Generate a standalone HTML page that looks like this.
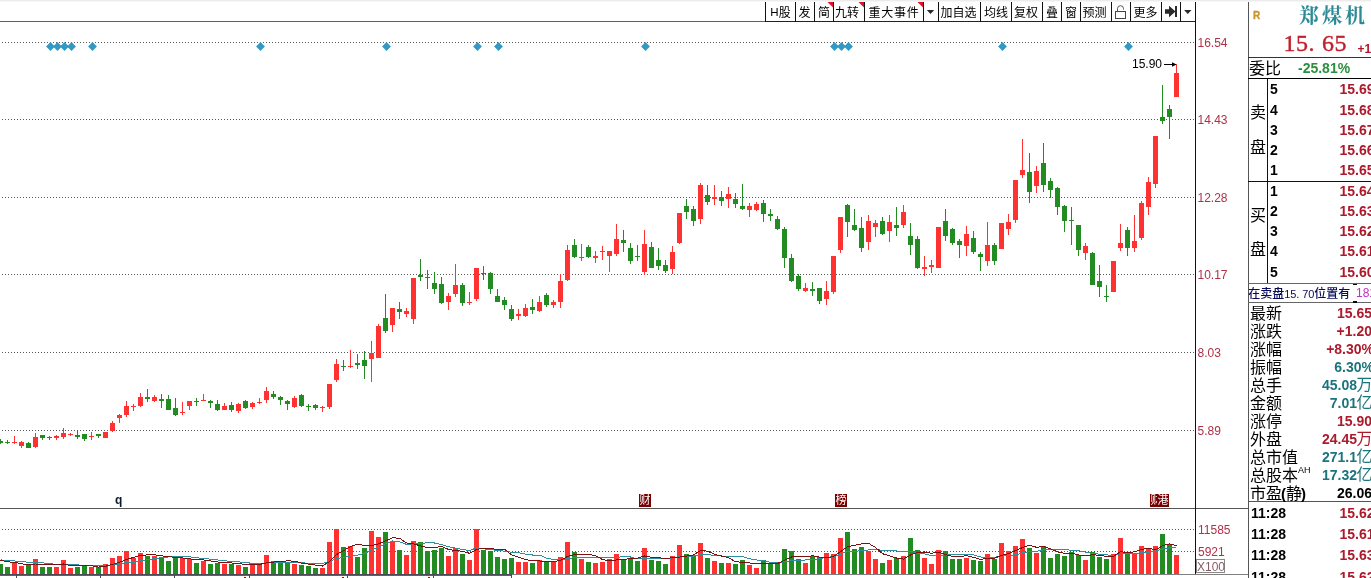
<!DOCTYPE html>
<html lang="zh"><head><meta charset="utf-8"><title>郑煤机</title><style>
html,body{margin:0;padding:0;background:#fff}
body{width:1371px;height:578px;overflow:hidden;position:relative;font-family:"Liberation Sans","Noto Sans CJK SC",sans-serif}
svg{position:absolute;left:0;top:0}
.t{position:absolute;white-space:nowrap;line-height:1.15;}
.ax{font:12px/14px "Liberation Sans",sans-serif;color:#b03048}
.tb{font:12px/16px "Liberation Sans","Noto Sans CJK SC",sans-serif;color:#000;text-align:center}
.b{font:bold 14px/16px "Liberation Sans","Noto Sans CJK SC",sans-serif}
.cn16{font:16px/18px "Liberation Sans","Noto Sans CJK SC",sans-serif;color:#000;font-weight:400}
.u{font:16px/16px "Liberation Sans","Noto Sans CJK SC",sans-serif;font-weight:400;margin-left:-0.5px}
.sup{color:#000;font:9px/8px "Liberation Sans",sans-serif;vertical-align:top;position:relative;top:-1px}
.d6{display:inline-block;width:6px;text-align:left;font-size:11px}
.pr{font-weight:bold;font-size:15px;display:inline-block;width:4px;text-indent:-1px}
.mk{position:absolute;top:494px;width:12px;height:13px;background:#7a0000;color:#fff;font:11px/13px "Liberation Sans","Noto Sans CJK SC",sans-serif;text-align:center;overflow:hidden}
</style></head>
<body>
<svg width="1371" height="578" viewBox="0 0 1371 578" shape-rendering="crispEdges">
<rect x="0" y="0" width="1371" height="1" fill="#ececec"/>
<rect x="0" y="1" width="1371" height="1" fill="#f6f6f6"/>
<line x1="2" y1="42.5" x2="1195" y2="42.5" stroke="#585858" stroke-width="1" stroke-dasharray="1 2"/>
<line x1="2" y1="119.5" x2="1195" y2="119.5" stroke="#585858" stroke-width="1" stroke-dasharray="1 2"/>
<line x1="2" y1="197.5" x2="1195" y2="197.5" stroke="#585858" stroke-width="1" stroke-dasharray="1 2"/>
<line x1="2" y1="274.5" x2="1195" y2="274.5" stroke="#585858" stroke-width="1" stroke-dasharray="1 2"/>
<line x1="2" y1="352.5" x2="1195" y2="352.5" stroke="#585858" stroke-width="1" stroke-dasharray="1 2"/>
<line x1="2" y1="430.5" x2="1195" y2="430.5" stroke="#585858" stroke-width="1" stroke-dasharray="1 2"/>
<line x1="2" y1="529.5" x2="1195" y2="529.5" stroke="#585858" stroke-width="1" stroke-dasharray="1 2"/>
<line x1="2" y1="551.5" x2="1195" y2="551.5" stroke="#585858" stroke-width="1" stroke-dasharray="1 2"/>
<rect x="0" y="21" width="765" height="1" fill="#606060"/>
<rect x="765" y="21" width="431" height="1" fill="#222"/>
<rect x="0" y="508" width="1248" height="1" fill="#555"/>
<rect x="1178" y="574" width="70" height="1" fill="#777"/>
<rect x="1195" y="2" width="1" height="573" fill="#111"/>
<rect x="0" y="439" width="1" height="5" fill="#228b22"/>
<rect x="-2" y="441" width="5" height="2" fill="#228b22"/>
<rect x="7" y="440" width="1" height="4" fill="#228b22"/>
<rect x="5" y="442" width="5" height="1" fill="#228b22"/>
<rect x="14" y="436" width="1" height="8" fill="#ff3232"/>
<rect x="12" y="442" width="5" height="1" fill="#ff3232"/>
<rect x="21" y="441" width="1" height="7" fill="#ff3232"/>
<rect x="19" y="442" width="5" height="4" fill="#ff3232"/>
<rect x="28" y="442" width="1" height="6" fill="#228b22"/>
<rect x="26" y="443" width="5" height="5" fill="#228b22"/>
<rect x="35" y="433" width="1" height="15" fill="#ff3232"/>
<rect x="33" y="437" width="5" height="10" fill="#ff3232"/>
<rect x="42" y="435" width="1" height="5" fill="#228b22"/>
<rect x="40" y="435" width="5" height="3" fill="#228b22"/>
<rect x="49" y="436" width="1" height="4" fill="#228b22"/>
<rect x="47" y="437" width="5" height="1" fill="#228b22"/>
<rect x="56" y="435" width="1" height="5" fill="#ff3232"/>
<rect x="54" y="436" width="5" height="2" fill="#ff3232"/>
<rect x="63" y="428" width="1" height="11" fill="#ff3232"/>
<rect x="61" y="433" width="5" height="4" fill="#ff3232"/>
<rect x="70" y="433" width="1" height="3" fill="#ff3232"/>
<rect x="68" y="434" width="5" height="1" fill="#ff3232"/>
<rect x="77" y="431" width="1" height="8" fill="#228b22"/>
<rect x="75" y="435" width="5" height="2" fill="#228b22"/>
<rect x="84" y="434" width="1" height="7" fill="#228b22"/>
<rect x="82" y="434" width="5" height="5" fill="#228b22"/>
<rect x="91" y="432" width="1" height="8" fill="#ff3232"/>
<rect x="89" y="436" width="5" height="1" fill="#ff3232"/>
<rect x="98" y="434" width="1" height="4" fill="#228b22"/>
<rect x="96" y="434" width="5" height="2" fill="#228b22"/>
<rect x="105" y="432" width="1" height="6" fill="#ff3232"/>
<rect x="103" y="432" width="5" height="6" fill="#ff3232"/>
<rect x="112" y="421" width="1" height="11" fill="#ff3232"/>
<rect x="110" y="423" width="5" height="8" fill="#ff3232"/>
<rect x="119" y="414" width="1" height="9" fill="#ff3232"/>
<rect x="117" y="415" width="5" height="3" fill="#ff3232"/>
<rect x="126" y="401" width="1" height="16" fill="#ff3232"/>
<rect x="124" y="406" width="5" height="9" fill="#ff3232"/>
<rect x="133" y="404" width="1" height="7" fill="#ff3232"/>
<rect x="131" y="406" width="5" height="1" fill="#ff3232"/>
<rect x="140" y="393" width="1" height="14" fill="#ff3232"/>
<rect x="138" y="397" width="5" height="9" fill="#ff3232"/>
<rect x="147" y="389" width="1" height="13" fill="#228b22"/>
<rect x="145" y="397" width="5" height="2" fill="#228b22"/>
<rect x="154" y="395" width="1" height="7" fill="#ff3232"/>
<rect x="152" y="397" width="5" height="4" fill="#ff3232"/>
<rect x="161" y="394" width="1" height="14" fill="#228b22"/>
<rect x="159" y="399" width="5" height="2" fill="#228b22"/>
<rect x="168" y="395" width="1" height="15" fill="#228b22"/>
<rect x="166" y="399" width="5" height="11" fill="#228b22"/>
<rect x="175" y="398" width="1" height="18" fill="#228b22"/>
<rect x="173" y="408" width="5" height="7" fill="#228b22"/>
<rect x="182" y="402" width="1" height="13" fill="#ff3232"/>
<rect x="180" y="412" width="5" height="1" fill="#ff3232"/>
<rect x="189" y="401" width="1" height="9" fill="#ff3232"/>
<rect x="187" y="401" width="5" height="5" fill="#ff3232"/>
<rect x="196" y="398" width="1" height="8" fill="#228b22"/>
<rect x="194" y="401" width="5" height="1" fill="#228b22"/>
<rect x="203" y="394" width="1" height="7" fill="#ff3232"/>
<rect x="201" y="400" width="5" height="1" fill="#ff3232"/>
<rect x="210" y="400" width="1" height="8" fill="#228b22"/>
<rect x="208" y="401" width="5" height="2" fill="#228b22"/>
<rect x="217" y="400" width="1" height="11" fill="#228b22"/>
<rect x="215" y="404" width="5" height="6" fill="#228b22"/>
<rect x="224" y="403" width="1" height="7" fill="#ff3232"/>
<rect x="222" y="406" width="5" height="4" fill="#ff3232"/>
<rect x="231" y="402" width="1" height="10" fill="#228b22"/>
<rect x="229" y="405" width="5" height="5" fill="#228b22"/>
<rect x="238" y="403" width="1" height="10" fill="#ff3232"/>
<rect x="236" y="404" width="5" height="7" fill="#ff3232"/>
<rect x="245" y="400" width="1" height="9" fill="#228b22"/>
<rect x="243" y="401" width="5" height="7" fill="#228b22"/>
<rect x="252" y="402" width="1" height="7" fill="#ff3232"/>
<rect x="250" y="403" width="5" height="4" fill="#ff3232"/>
<rect x="259" y="398" width="1" height="6" fill="#ff3232"/>
<rect x="257" y="402" width="5" height="1" fill="#ff3232"/>
<rect x="266" y="387" width="1" height="16" fill="#ff3232"/>
<rect x="264" y="391" width="5" height="9" fill="#ff3232"/>
<rect x="273" y="391" width="1" height="8" fill="#228b22"/>
<rect x="271" y="394" width="5" height="3" fill="#228b22"/>
<rect x="280" y="396" width="1" height="9" fill="#228b22"/>
<rect x="278" y="397" width="5" height="3" fill="#228b22"/>
<rect x="287" y="400" width="1" height="10" fill="#228b22"/>
<rect x="285" y="401" width="5" height="3" fill="#228b22"/>
<rect x="294" y="396" width="1" height="12" fill="#ff3232"/>
<rect x="292" y="398" width="5" height="9" fill="#ff3232"/>
<rect x="301" y="394" width="1" height="13" fill="#228b22"/>
<rect x="299" y="395" width="5" height="11" fill="#228b22"/>
<rect x="308" y="404" width="1" height="7" fill="#228b22"/>
<rect x="306" y="406" width="5" height="1" fill="#228b22"/>
<rect x="315" y="404" width="1" height="6" fill="#228b22"/>
<rect x="313" y="405" width="5" height="3" fill="#228b22"/>
<rect x="322" y="406" width="1" height="6" fill="#ff3232"/>
<rect x="320" y="407" width="5" height="1" fill="#ff3232"/>
<rect x="329" y="384" width="1" height="25" fill="#ff3232"/>
<rect x="327" y="384" width="5" height="23" fill="#ff3232"/>
<rect x="336" y="359" width="1" height="23" fill="#ff3232"/>
<rect x="334" y="364" width="5" height="16" fill="#ff3232"/>
<rect x="343" y="360" width="1" height="11" fill="#228b22"/>
<rect x="341" y="366" width="5" height="1" fill="#228b22"/>
<rect x="350" y="350" width="1" height="18" fill="#ff3232"/>
<rect x="348" y="366" width="5" height="1" fill="#ff3232"/>
<rect x="357" y="354" width="1" height="15" fill="#228b22"/>
<rect x="355" y="363" width="5" height="2" fill="#228b22"/>
<rect x="364" y="351" width="1" height="28" fill="#228b22"/>
<rect x="362" y="360" width="5" height="6" fill="#228b22"/>
<rect x="371" y="341" width="1" height="41" fill="#ff3232"/>
<rect x="369" y="353" width="5" height="6" fill="#ff3232"/>
<rect x="378" y="324" width="1" height="34" fill="#ff3232"/>
<rect x="376" y="326" width="5" height="32" fill="#ff3232"/>
<rect x="385" y="294" width="1" height="39" fill="#228b22"/>
<rect x="383" y="318" width="5" height="13" fill="#228b22"/>
<rect x="392" y="308" width="1" height="24" fill="#ff3232"/>
<rect x="390" y="308" width="5" height="17" fill="#ff3232"/>
<rect x="399" y="302" width="1" height="17" fill="#228b22"/>
<rect x="397" y="309" width="5" height="3" fill="#228b22"/>
<rect x="406" y="308" width="1" height="9" fill="#ff3232"/>
<rect x="404" y="311" width="5" height="3" fill="#ff3232"/>
<rect x="413" y="278" width="1" height="46" fill="#ff3232"/>
<rect x="411" y="278" width="5" height="41" fill="#ff3232"/>
<rect x="420" y="259" width="1" height="22" fill="#228b22"/>
<rect x="418" y="275" width="5" height="2" fill="#228b22"/>
<rect x="427" y="270" width="1" height="19" fill="#228b22"/>
<rect x="425" y="277" width="5" height="1" fill="#228b22"/>
<rect x="434" y="272" width="1" height="22" fill="#228b22"/>
<rect x="432" y="283" width="5" height="6" fill="#228b22"/>
<rect x="441" y="277" width="1" height="27" fill="#228b22"/>
<rect x="439" y="284" width="5" height="19" fill="#228b22"/>
<rect x="448" y="293" width="1" height="17" fill="#ff3232"/>
<rect x="446" y="296" width="5" height="6" fill="#ff3232"/>
<rect x="455" y="264" width="1" height="33" fill="#ff3232"/>
<rect x="453" y="285" width="5" height="9" fill="#ff3232"/>
<rect x="462" y="283" width="1" height="23" fill="#228b22"/>
<rect x="460" y="285" width="5" height="18" fill="#228b22"/>
<rect x="469" y="292" width="1" height="13" fill="#ff3232"/>
<rect x="467" y="302" width="5" height="1" fill="#ff3232"/>
<rect x="476" y="268" width="1" height="33" fill="#ff3232"/>
<rect x="474" y="268" width="5" height="31" fill="#ff3232"/>
<rect x="483" y="266" width="1" height="14" fill="#228b22"/>
<rect x="481" y="273" width="5" height="1" fill="#228b22"/>
<rect x="490" y="272" width="1" height="22" fill="#228b22"/>
<rect x="488" y="273" width="5" height="16" fill="#228b22"/>
<rect x="497" y="289" width="1" height="13" fill="#228b22"/>
<rect x="495" y="296" width="5" height="6" fill="#228b22"/>
<rect x="504" y="297" width="1" height="13" fill="#228b22"/>
<rect x="502" y="300" width="5" height="5" fill="#228b22"/>
<rect x="511" y="305" width="1" height="16" fill="#228b22"/>
<rect x="509" y="309" width="5" height="10" fill="#228b22"/>
<rect x="518" y="309" width="1" height="11" fill="#ff3232"/>
<rect x="516" y="314" width="5" height="2" fill="#ff3232"/>
<rect x="525" y="304" width="1" height="13" fill="#ff3232"/>
<rect x="523" y="308" width="5" height="8" fill="#ff3232"/>
<rect x="532" y="299" width="1" height="15" fill="#228b22"/>
<rect x="530" y="307" width="5" height="3" fill="#228b22"/>
<rect x="539" y="296" width="1" height="16" fill="#ff3232"/>
<rect x="537" y="302" width="5" height="9" fill="#ff3232"/>
<rect x="546" y="293" width="1" height="14" fill="#228b22"/>
<rect x="544" y="295" width="5" height="10" fill="#228b22"/>
<rect x="553" y="300" width="1" height="8" fill="#ff3232"/>
<rect x="551" y="302" width="5" height="3" fill="#ff3232"/>
<rect x="560" y="274" width="1" height="34" fill="#ff3232"/>
<rect x="558" y="281" width="5" height="21" fill="#ff3232"/>
<rect x="567" y="245" width="1" height="36" fill="#ff3232"/>
<rect x="565" y="250" width="5" height="30" fill="#ff3232"/>
<rect x="574" y="239" width="1" height="19" fill="#228b22"/>
<rect x="572" y="245" width="5" height="12" fill="#228b22"/>
<rect x="581" y="244" width="1" height="17" fill="#ff3232"/>
<rect x="579" y="257" width="5" height="1" fill="#ff3232"/>
<rect x="588" y="245" width="1" height="13" fill="#228b22"/>
<rect x="586" y="247" width="5" height="10" fill="#228b22"/>
<rect x="595" y="251" width="1" height="12" fill="#ff3232"/>
<rect x="593" y="256" width="5" height="2" fill="#ff3232"/>
<rect x="602" y="246" width="1" height="14" fill="#ff3232"/>
<rect x="600" y="251" width="5" height="1" fill="#ff3232"/>
<rect x="609" y="251" width="1" height="21" fill="#ff3232"/>
<rect x="607" y="251" width="5" height="5" fill="#ff3232"/>
<rect x="616" y="224" width="1" height="32" fill="#ff3232"/>
<rect x="614" y="239" width="5" height="15" fill="#ff3232"/>
<rect x="623" y="230" width="1" height="22" fill="#228b22"/>
<rect x="621" y="240" width="5" height="3" fill="#228b22"/>
<rect x="630" y="243" width="1" height="21" fill="#228b22"/>
<rect x="628" y="248" width="5" height="13" fill="#228b22"/>
<rect x="637" y="245" width="1" height="16" fill="#228b22"/>
<rect x="635" y="256" width="5" height="1" fill="#228b22"/>
<rect x="644" y="230" width="1" height="45" fill="#ff3232"/>
<rect x="642" y="244" width="5" height="28" fill="#ff3232"/>
<rect x="651" y="242" width="1" height="26" fill="#228b22"/>
<rect x="649" y="247" width="5" height="21" fill="#228b22"/>
<rect x="658" y="248" width="1" height="22" fill="#228b22"/>
<rect x="656" y="260" width="5" height="6" fill="#228b22"/>
<rect x="665" y="260" width="1" height="13" fill="#228b22"/>
<rect x="663" y="265" width="5" height="6" fill="#228b22"/>
<rect x="672" y="246" width="1" height="28" fill="#ff3232"/>
<rect x="670" y="252" width="5" height="17" fill="#ff3232"/>
<rect x="679" y="213" width="1" height="31" fill="#ff3232"/>
<rect x="677" y="213" width="5" height="30" fill="#ff3232"/>
<rect x="686" y="199" width="1" height="20" fill="#228b22"/>
<rect x="684" y="206" width="5" height="6" fill="#228b22"/>
<rect x="693" y="206" width="1" height="20" fill="#228b22"/>
<rect x="691" y="209" width="5" height="12" fill="#228b22"/>
<rect x="700" y="183" width="1" height="41" fill="#ff3232"/>
<rect x="698" y="185" width="5" height="34" fill="#ff3232"/>
<rect x="707" y="185" width="1" height="20" fill="#228b22"/>
<rect x="705" y="195" width="5" height="7" fill="#228b22"/>
<rect x="714" y="185" width="1" height="20" fill="#ff3232"/>
<rect x="712" y="197" width="5" height="2" fill="#ff3232"/>
<rect x="721" y="191" width="1" height="15" fill="#228b22"/>
<rect x="719" y="197" width="5" height="4" fill="#228b22"/>
<rect x="728" y="187" width="1" height="21" fill="#ff3232"/>
<rect x="726" y="194" width="5" height="5" fill="#ff3232"/>
<rect x="735" y="193" width="1" height="15" fill="#228b22"/>
<rect x="733" y="199" width="5" height="5" fill="#228b22"/>
<rect x="742" y="184" width="1" height="26" fill="#228b22"/>
<rect x="740" y="206" width="5" height="3" fill="#228b22"/>
<rect x="749" y="203" width="1" height="14" fill="#ff3232"/>
<rect x="747" y="206" width="5" height="4" fill="#ff3232"/>
<rect x="756" y="202" width="1" height="9" fill="#ff3232"/>
<rect x="754" y="204" width="5" height="6" fill="#ff3232"/>
<rect x="763" y="200" width="1" height="22" fill="#228b22"/>
<rect x="761" y="203" width="5" height="11" fill="#228b22"/>
<rect x="770" y="209" width="1" height="12" fill="#228b22"/>
<rect x="768" y="214" width="5" height="2" fill="#228b22"/>
<rect x="777" y="216" width="1" height="14" fill="#228b22"/>
<rect x="775" y="219" width="5" height="10" fill="#228b22"/>
<rect x="784" y="227" width="1" height="41" fill="#228b22"/>
<rect x="782" y="229" width="5" height="29" fill="#228b22"/>
<rect x="791" y="254" width="1" height="28" fill="#228b22"/>
<rect x="789" y="258" width="5" height="23" fill="#228b22"/>
<rect x="798" y="274" width="1" height="17" fill="#228b22"/>
<rect x="796" y="276" width="5" height="13" fill="#228b22"/>
<rect x="805" y="283" width="1" height="9" fill="#ff3232"/>
<rect x="803" y="288" width="5" height="3" fill="#ff3232"/>
<rect x="812" y="282" width="1" height="14" fill="#228b22"/>
<rect x="810" y="289" width="5" height="2" fill="#228b22"/>
<rect x="819" y="288" width="1" height="16" fill="#228b22"/>
<rect x="817" y="288" width="5" height="13" fill="#228b22"/>
<rect x="826" y="281" width="1" height="24" fill="#ff3232"/>
<rect x="824" y="291" width="5" height="8" fill="#ff3232"/>
<rect x="833" y="256" width="1" height="38" fill="#ff3232"/>
<rect x="831" y="256" width="5" height="36" fill="#ff3232"/>
<rect x="840" y="217" width="1" height="36" fill="#ff3232"/>
<rect x="838" y="217" width="5" height="33" fill="#ff3232"/>
<rect x="847" y="204" width="1" height="33" fill="#228b22"/>
<rect x="845" y="205" width="5" height="17" fill="#228b22"/>
<rect x="854" y="209" width="1" height="22" fill="#228b22"/>
<rect x="852" y="225" width="5" height="5" fill="#228b22"/>
<rect x="861" y="217" width="1" height="35" fill="#228b22"/>
<rect x="859" y="228" width="5" height="20" fill="#228b22"/>
<rect x="868" y="215" width="1" height="35" fill="#ff3232"/>
<rect x="866" y="221" width="5" height="21" fill="#ff3232"/>
<rect x="875" y="220" width="1" height="17" fill="#ff3232"/>
<rect x="873" y="223" width="5" height="4" fill="#ff3232"/>
<rect x="882" y="217" width="1" height="18" fill="#228b22"/>
<rect x="880" y="221" width="5" height="13" fill="#228b22"/>
<rect x="889" y="215" width="1" height="27" fill="#ff3232"/>
<rect x="887" y="222" width="5" height="9" fill="#ff3232"/>
<rect x="896" y="207" width="1" height="29" fill="#228b22"/>
<rect x="894" y="225" width="5" height="3" fill="#228b22"/>
<rect x="903" y="205" width="1" height="23" fill="#ff3232"/>
<rect x="901" y="212" width="5" height="13" fill="#ff3232"/>
<rect x="910" y="223" width="1" height="32" fill="#228b22"/>
<rect x="908" y="236" width="5" height="9" fill="#228b22"/>
<rect x="917" y="236" width="1" height="33" fill="#228b22"/>
<rect x="915" y="239" width="5" height="29" fill="#228b22"/>
<rect x="924" y="256" width="1" height="20" fill="#ff3232"/>
<rect x="922" y="267" width="5" height="2" fill="#ff3232"/>
<rect x="931" y="260" width="1" height="13" fill="#ff3232"/>
<rect x="929" y="265" width="5" height="2" fill="#ff3232"/>
<rect x="938" y="227" width="1" height="41" fill="#ff3232"/>
<rect x="936" y="227" width="5" height="41" fill="#ff3232"/>
<rect x="945" y="209" width="1" height="32" fill="#228b22"/>
<rect x="943" y="221" width="5" height="15" fill="#228b22"/>
<rect x="952" y="228" width="1" height="17" fill="#228b22"/>
<rect x="950" y="229" width="5" height="14" fill="#228b22"/>
<rect x="959" y="239" width="1" height="19" fill="#228b22"/>
<rect x="957" y="241" width="5" height="4" fill="#228b22"/>
<rect x="966" y="226" width="1" height="30" fill="#ff3232"/>
<rect x="964" y="234" width="5" height="12" fill="#ff3232"/>
<rect x="973" y="231" width="1" height="23" fill="#228b22"/>
<rect x="971" y="238" width="5" height="14" fill="#228b22"/>
<rect x="980" y="252" width="1" height="19" fill="#228b22"/>
<rect x="978" y="254" width="5" height="3" fill="#228b22"/>
<rect x="987" y="222" width="1" height="44" fill="#ff3232"/>
<rect x="985" y="245" width="5" height="16" fill="#ff3232"/>
<rect x="994" y="243" width="1" height="22" fill="#228b22"/>
<rect x="992" y="245" width="5" height="16" fill="#228b22"/>
<rect x="1001" y="223" width="1" height="26" fill="#ff3232"/>
<rect x="999" y="223" width="5" height="26" fill="#ff3232"/>
<rect x="1008" y="214" width="1" height="21" fill="#ff3232"/>
<rect x="1006" y="222" width="5" height="7" fill="#ff3232"/>
<rect x="1015" y="180" width="1" height="43" fill="#ff3232"/>
<rect x="1013" y="180" width="5" height="40" fill="#ff3232"/>
<rect x="1022" y="139" width="1" height="39" fill="#ff3232"/>
<rect x="1020" y="170" width="5" height="5" fill="#ff3232"/>
<rect x="1029" y="153" width="1" height="50" fill="#228b22"/>
<rect x="1027" y="172" width="5" height="20" fill="#228b22"/>
<rect x="1036" y="166" width="1" height="27" fill="#ff3232"/>
<rect x="1034" y="171" width="5" height="15" fill="#ff3232"/>
<rect x="1043" y="143" width="1" height="49" fill="#228b22"/>
<rect x="1041" y="163" width="5" height="22" fill="#228b22"/>
<rect x="1050" y="178" width="1" height="20" fill="#228b22"/>
<rect x="1048" y="181" width="5" height="9" fill="#228b22"/>
<rect x="1057" y="187" width="1" height="28" fill="#228b22"/>
<rect x="1055" y="188" width="5" height="19" fill="#228b22"/>
<rect x="1064" y="205" width="1" height="27" fill="#228b22"/>
<rect x="1062" y="206" width="5" height="15" fill="#228b22"/>
<rect x="1071" y="207" width="1" height="38" fill="#228b22"/>
<rect x="1069" y="220" width="5" height="1" fill="#228b22"/>
<rect x="1078" y="225" width="1" height="31" fill="#228b22"/>
<rect x="1076" y="225" width="5" height="25" fill="#228b22"/>
<rect x="1085" y="243" width="1" height="17" fill="#ff3232"/>
<rect x="1083" y="246" width="5" height="7" fill="#ff3232"/>
<rect x="1092" y="252" width="1" height="33" fill="#228b22"/>
<rect x="1090" y="253" width="5" height="32" fill="#228b22"/>
<rect x="1099" y="265" width="1" height="32" fill="#228b22"/>
<rect x="1097" y="281" width="5" height="6" fill="#228b22"/>
<rect x="1106" y="285" width="1" height="17" fill="#228b22"/>
<rect x="1104" y="296" width="5" height="1" fill="#228b22"/>
<rect x="1113" y="261" width="1" height="31" fill="#ff3232"/>
<rect x="1111" y="261" width="5" height="31" fill="#ff3232"/>
<rect x="1120" y="224" width="1" height="27" fill="#ff3232"/>
<rect x="1118" y="243" width="5" height="5" fill="#ff3232"/>
<rect x="1127" y="227" width="1" height="29" fill="#228b22"/>
<rect x="1125" y="230" width="5" height="18" fill="#228b22"/>
<rect x="1134" y="215" width="1" height="37" fill="#ff3232"/>
<rect x="1132" y="241" width="5" height="7" fill="#ff3232"/>
<rect x="1141" y="201" width="1" height="39" fill="#ff3232"/>
<rect x="1139" y="203" width="5" height="35" fill="#ff3232"/>
<rect x="1148" y="177" width="1" height="38" fill="#ff3232"/>
<rect x="1146" y="182" width="5" height="25" fill="#ff3232"/>
<rect x="1155" y="136" width="1" height="52" fill="#ff3232"/>
<rect x="1153" y="136" width="5" height="48" fill="#ff3232"/>
<rect x="1162" y="85" width="1" height="39" fill="#228b22"/>
<rect x="1160" y="117" width="5" height="4" fill="#228b22"/>
<rect x="1169" y="105" width="1" height="34" fill="#228b22"/>
<rect x="1167" y="109" width="5" height="8" fill="#228b22"/>
<rect x="1176" y="64" width="1" height="33" fill="#ff3232"/>
<rect x="1174" y="73" width="5" height="24" fill="#ff3232"/>
<rect x="-2" y="564" width="5" height="10" fill="#228b22"/>
<rect x="5" y="567" width="5" height="7" fill="#228b22"/>
<rect x="12" y="563" width="5" height="11" fill="#ff3232"/>
<rect x="19" y="566" width="5" height="8" fill="#ff3232"/>
<rect x="26" y="565" width="5" height="9" fill="#228b22"/>
<rect x="33" y="559" width="5" height="15" fill="#ff3232"/>
<rect x="40" y="567" width="5" height="7" fill="#228b22"/>
<rect x="47" y="567" width="5" height="7" fill="#228b22"/>
<rect x="54" y="567" width="5" height="7" fill="#ff3232"/>
<rect x="61" y="560" width="5" height="14" fill="#ff3232"/>
<rect x="68" y="568" width="5" height="6" fill="#ff3232"/>
<rect x="75" y="567" width="5" height="7" fill="#228b22"/>
<rect x="82" y="566" width="5" height="8" fill="#228b22"/>
<rect x="89" y="567" width="5" height="7" fill="#ff3232"/>
<rect x="96" y="567" width="5" height="7" fill="#228b22"/>
<rect x="103" y="564" width="5" height="10" fill="#ff3232"/>
<rect x="110" y="558" width="5" height="16" fill="#ff3232"/>
<rect x="117" y="556" width="5" height="18" fill="#ff3232"/>
<rect x="124" y="551" width="5" height="23" fill="#ff3232"/>
<rect x="131" y="558" width="5" height="16" fill="#ff3232"/>
<rect x="138" y="553" width="5" height="21" fill="#ff3232"/>
<rect x="145" y="556" width="5" height="18" fill="#228b22"/>
<rect x="152" y="556" width="5" height="18" fill="#ff3232"/>
<rect x="159" y="557" width="5" height="17" fill="#228b22"/>
<rect x="166" y="561" width="5" height="13" fill="#228b22"/>
<rect x="173" y="558" width="5" height="16" fill="#228b22"/>
<rect x="180" y="558" width="5" height="16" fill="#ff3232"/>
<rect x="187" y="559" width="5" height="15" fill="#ff3232"/>
<rect x="194" y="563" width="5" height="11" fill="#228b22"/>
<rect x="201" y="561" width="5" height="13" fill="#ff3232"/>
<rect x="208" y="564" width="5" height="10" fill="#228b22"/>
<rect x="215" y="563" width="5" height="11" fill="#228b22"/>
<rect x="222" y="564" width="5" height="10" fill="#ff3232"/>
<rect x="229" y="564" width="5" height="10" fill="#228b22"/>
<rect x="236" y="565" width="5" height="9" fill="#ff3232"/>
<rect x="243" y="567" width="5" height="7" fill="#228b22"/>
<rect x="250" y="565" width="5" height="9" fill="#ff3232"/>
<rect x="257" y="563" width="5" height="11" fill="#ff3232"/>
<rect x="264" y="555" width="5" height="19" fill="#ff3232"/>
<rect x="271" y="561" width="5" height="13" fill="#228b22"/>
<rect x="278" y="563" width="5" height="11" fill="#228b22"/>
<rect x="285" y="563" width="5" height="11" fill="#228b22"/>
<rect x="292" y="564" width="5" height="10" fill="#ff3232"/>
<rect x="299" y="565" width="5" height="9" fill="#228b22"/>
<rect x="306" y="566" width="5" height="8" fill="#228b22"/>
<rect x="313" y="568" width="5" height="6" fill="#228b22"/>
<rect x="320" y="568" width="5" height="6" fill="#ff3232"/>
<rect x="327" y="542" width="5" height="32" fill="#ff3232"/>
<rect x="334" y="529" width="5" height="45" fill="#ff3232"/>
<rect x="341" y="547" width="5" height="27" fill="#228b22"/>
<rect x="348" y="546" width="5" height="28" fill="#ff3232"/>
<rect x="355" y="557" width="5" height="17" fill="#228b22"/>
<rect x="362" y="548" width="5" height="26" fill="#228b22"/>
<rect x="369" y="531" width="5" height="43" fill="#ff3232"/>
<rect x="376" y="537" width="5" height="37" fill="#ff3232"/>
<rect x="383" y="532" width="5" height="42" fill="#228b22"/>
<rect x="390" y="541" width="5" height="33" fill="#ff3232"/>
<rect x="397" y="550" width="5" height="24" fill="#228b22"/>
<rect x="404" y="555" width="5" height="19" fill="#ff3232"/>
<rect x="411" y="541" width="5" height="33" fill="#ff3232"/>
<rect x="418" y="542" width="5" height="32" fill="#228b22"/>
<rect x="425" y="551" width="5" height="23" fill="#228b22"/>
<rect x="432" y="550" width="5" height="24" fill="#228b22"/>
<rect x="439" y="548" width="5" height="26" fill="#228b22"/>
<rect x="446" y="556" width="5" height="18" fill="#ff3232"/>
<rect x="453" y="548" width="5" height="26" fill="#ff3232"/>
<rect x="460" y="554" width="5" height="20" fill="#228b22"/>
<rect x="467" y="560" width="5" height="14" fill="#ff3232"/>
<rect x="474" y="529" width="5" height="45" fill="#ff3232"/>
<rect x="481" y="550" width="5" height="24" fill="#228b22"/>
<rect x="488" y="551" width="5" height="23" fill="#228b22"/>
<rect x="495" y="557" width="5" height="17" fill="#228b22"/>
<rect x="502" y="559" width="5" height="15" fill="#228b22"/>
<rect x="509" y="558" width="5" height="16" fill="#228b22"/>
<rect x="516" y="562" width="5" height="12" fill="#ff3232"/>
<rect x="523" y="562" width="5" height="12" fill="#ff3232"/>
<rect x="530" y="563" width="5" height="11" fill="#228b22"/>
<rect x="537" y="560" width="5" height="14" fill="#ff3232"/>
<rect x="544" y="562" width="5" height="12" fill="#228b22"/>
<rect x="551" y="561" width="5" height="13" fill="#ff3232"/>
<rect x="558" y="557" width="5" height="17" fill="#ff3232"/>
<rect x="565" y="542" width="5" height="32" fill="#ff3232"/>
<rect x="572" y="552" width="5" height="22" fill="#228b22"/>
<rect x="579" y="559" width="5" height="15" fill="#ff3232"/>
<rect x="586" y="562" width="5" height="12" fill="#228b22"/>
<rect x="593" y="563" width="5" height="11" fill="#ff3232"/>
<rect x="600" y="562" width="5" height="12" fill="#ff3232"/>
<rect x="607" y="559" width="5" height="15" fill="#ff3232"/>
<rect x="614" y="554" width="5" height="20" fill="#ff3232"/>
<rect x="621" y="559" width="5" height="15" fill="#228b22"/>
<rect x="628" y="558" width="5" height="16" fill="#228b22"/>
<rect x="635" y="561" width="5" height="13" fill="#228b22"/>
<rect x="642" y="548" width="5" height="26" fill="#ff3232"/>
<rect x="649" y="560" width="5" height="14" fill="#228b22"/>
<rect x="656" y="561" width="5" height="13" fill="#228b22"/>
<rect x="663" y="564" width="5" height="10" fill="#228b22"/>
<rect x="670" y="556" width="5" height="18" fill="#ff3232"/>
<rect x="677" y="545" width="5" height="29" fill="#ff3232"/>
<rect x="684" y="554" width="5" height="20" fill="#228b22"/>
<rect x="691" y="555" width="5" height="19" fill="#228b22"/>
<rect x="698" y="543" width="5" height="31" fill="#ff3232"/>
<rect x="705" y="558" width="5" height="16" fill="#228b22"/>
<rect x="712" y="561" width="5" height="13" fill="#ff3232"/>
<rect x="719" y="563" width="5" height="11" fill="#228b22"/>
<rect x="726" y="563" width="5" height="11" fill="#ff3232"/>
<rect x="733" y="564" width="5" height="10" fill="#228b22"/>
<rect x="740" y="560" width="5" height="14" fill="#228b22"/>
<rect x="747" y="565" width="5" height="9" fill="#ff3232"/>
<rect x="754" y="568" width="5" height="6" fill="#ff3232"/>
<rect x="761" y="560" width="5" height="14" fill="#228b22"/>
<rect x="768" y="563" width="5" height="11" fill="#228b22"/>
<rect x="775" y="562" width="5" height="12" fill="#228b22"/>
<rect x="782" y="549" width="5" height="25" fill="#228b22"/>
<rect x="789" y="551" width="5" height="23" fill="#228b22"/>
<rect x="796" y="559" width="5" height="15" fill="#228b22"/>
<rect x="803" y="563" width="5" height="11" fill="#ff3232"/>
<rect x="810" y="556" width="5" height="18" fill="#228b22"/>
<rect x="817" y="557" width="5" height="17" fill="#228b22"/>
<rect x="824" y="553" width="5" height="21" fill="#ff3232"/>
<rect x="831" y="554" width="5" height="20" fill="#ff3232"/>
<rect x="838" y="538" width="5" height="36" fill="#ff3232"/>
<rect x="845" y="532" width="5" height="42" fill="#228b22"/>
<rect x="852" y="549" width="5" height="25" fill="#228b22"/>
<rect x="859" y="547" width="5" height="27" fill="#228b22"/>
<rect x="866" y="551" width="5" height="23" fill="#ff3232"/>
<rect x="873" y="559" width="5" height="15" fill="#ff3232"/>
<rect x="880" y="563" width="5" height="11" fill="#228b22"/>
<rect x="887" y="560" width="5" height="14" fill="#ff3232"/>
<rect x="894" y="558" width="5" height="16" fill="#228b22"/>
<rect x="901" y="556" width="5" height="18" fill="#ff3232"/>
<rect x="908" y="538" width="5" height="36" fill="#228b22"/>
<rect x="915" y="550" width="5" height="24" fill="#228b22"/>
<rect x="922" y="558" width="5" height="16" fill="#ff3232"/>
<rect x="929" y="564" width="5" height="10" fill="#ff3232"/>
<rect x="936" y="550" width="5" height="24" fill="#ff3232"/>
<rect x="943" y="551" width="5" height="23" fill="#228b22"/>
<rect x="950" y="559" width="5" height="15" fill="#228b22"/>
<rect x="957" y="559" width="5" height="15" fill="#228b22"/>
<rect x="964" y="558" width="5" height="16" fill="#ff3232"/>
<rect x="971" y="560" width="5" height="14" fill="#228b22"/>
<rect x="978" y="561" width="5" height="13" fill="#228b22"/>
<rect x="985" y="554" width="5" height="20" fill="#ff3232"/>
<rect x="992" y="559" width="5" height="15" fill="#228b22"/>
<rect x="999" y="543" width="5" height="31" fill="#ff3232"/>
<rect x="1006" y="551" width="5" height="23" fill="#ff3232"/>
<rect x="1013" y="546" width="5" height="28" fill="#ff3232"/>
<rect x="1020" y="539" width="5" height="35" fill="#ff3232"/>
<rect x="1027" y="548" width="5" height="26" fill="#228b22"/>
<rect x="1034" y="553" width="5" height="21" fill="#ff3232"/>
<rect x="1041" y="546" width="5" height="28" fill="#228b22"/>
<rect x="1048" y="558" width="5" height="16" fill="#228b22"/>
<rect x="1055" y="554" width="5" height="20" fill="#228b22"/>
<rect x="1062" y="556" width="5" height="18" fill="#228b22"/>
<rect x="1069" y="552" width="5" height="22" fill="#228b22"/>
<rect x="1076" y="555" width="5" height="19" fill="#228b22"/>
<rect x="1083" y="560" width="5" height="14" fill="#ff3232"/>
<rect x="1090" y="552" width="5" height="22" fill="#228b22"/>
<rect x="1097" y="557" width="5" height="17" fill="#228b22"/>
<rect x="1104" y="559" width="5" height="15" fill="#228b22"/>
<rect x="1111" y="554" width="5" height="20" fill="#ff3232"/>
<rect x="1118" y="538" width="5" height="36" fill="#ff3232"/>
<rect x="1125" y="554" width="5" height="20" fill="#228b22"/>
<rect x="1132" y="554" width="5" height="20" fill="#ff3232"/>
<rect x="1139" y="546" width="5" height="28" fill="#ff3232"/>
<rect x="1146" y="549" width="5" height="25" fill="#ff3232"/>
<rect x="1153" y="546" width="5" height="28" fill="#ff3232"/>
<rect x="1160" y="534" width="5" height="40" fill="#228b22"/>
<rect x="1167" y="544" width="5" height="30" fill="#228b22"/>
<rect x="1174" y="555" width="5" height="19" fill="#ff3232"/>
<rect x="0" y="574" width="1248" height="1" fill="#808080"/>
<rect x="0" y="574" width="512" height="1" fill="#4a4a58"/>
<rect x="0" y="575" width="512" height="1" fill="#6a5a78"/>
<rect x="16" y="574" width="1" height="4" fill="#4a4a58"/>
<rect x="100" y="574" width="1" height="4" fill="#4a4a58"/>
<rect x="174" y="574" width="1" height="4" fill="#4a4a58"/>
<rect x="249" y="574" width="1" height="4" fill="#4a4a58"/>
<rect x="347" y="574" width="1" height="4" fill="#4a4a58"/>
<rect x="433" y="574" width="1" height="4" fill="#4a4a58"/>
<rect x="511" y="574" width="1" height="4" fill="#4a4a58"/>
<rect x="244" y="577" width="2" height="1" fill="#b01010"/>
<rect x="342" y="577" width="2" height="1" fill="#b01010"/>
<rect x="428" y="577" width="2" height="1" fill="#b01010"/>
<polyline points="0.5,559.9 7.5,560.6 14.5,561.0 21.5,561.6 28.5,562.2 35.5,562.2 42.5,562.9 49.5,563.6 56.5,564.4 63.5,564.4 70.5,564.9 77.5,564.9 84.5,565.3 91.5,565.3 98.5,565.5 105.5,566.0 112.5,565.1 119.5,564.0 126.5,562.5 133.5,562.3 140.5,560.8 147.5,559.7 154.5,558.6 161.5,557.6 168.5,557.0 175.5,556.4 182.5,556.5 189.5,556.8 196.5,557.9 203.5,558.2 210.5,559.3 217.5,560.0 224.5,560.8 231.5,561.5 238.5,561.8 245.5,562.6 252.5,563.3 259.5,563.6 266.5,562.9 273.5,562.9 280.5,562.8 287.5,562.8 294.5,562.8 301.5,562.9 308.5,563.1 315.5,563.2 322.5,563.5 329.5,561.4 336.5,558.8 343.5,557.4 350.5,555.8 357.5,555.1 364.5,553.5 371.5,550.1 378.5,547.2 385.5,543.7 392.5,541.0 399.5,541.8 406.5,544.4 413.5,543.8 420.5,543.4 427.5,542.8 434.5,543.0 441.5,544.7 448.5,546.6 455.5,548.2 462.5,549.5 469.5,550.5 476.5,547.9 483.5,548.8 490.5,549.7 497.5,550.3 504.5,551.2 511.5,552.2 518.5,552.8 525.5,554.1 532.5,555.0 539.5,555.0 546.5,558.3 553.5,559.4 560.5,560.0 567.5,558.5 574.5,557.8 581.5,557.9 588.5,557.9 595.5,558.0 602.5,557.9 609.5,557.8 616.5,557.1 623.5,556.9 630.5,557.0 637.5,558.9 644.5,558.5 651.5,558.6 658.5,558.5 665.5,558.6 672.5,558.0 679.5,556.6 686.5,556.6 693.5,556.2 700.5,554.7 707.5,554.4 714.5,555.7 721.5,556.0 728.5,556.3 735.5,556.3 742.5,556.7 749.5,558.7 756.5,560.0 763.5,560.5 770.5,562.5 777.5,562.9 784.5,561.7 791.5,560.5 798.5,560.1 805.5,560.0 812.5,559.6 819.5,558.8 826.5,557.3 833.5,556.7 840.5,554.2 847.5,551.2 854.5,551.2 861.5,550.8 868.5,550.0 875.5,549.6 882.5,550.3 889.5,550.6 896.5,551.0 903.5,551.2 910.5,551.2 917.5,553.1 924.5,553.9 931.5,555.6 938.5,555.6 945.5,554.8 952.5,554.5 959.5,554.4 966.5,554.4 973.5,554.8 980.5,557.0 987.5,557.4 994.5,557.5 1001.5,555.4 1008.5,555.5 1015.5,554.9 1022.5,552.9 1029.5,551.8 1036.5,551.3 1043.5,550.0 1050.5,549.7 1057.5,549.7 1064.5,549.4 1071.5,550.3 1078.5,550.7 1085.5,552.1 1092.5,553.4 1099.5,554.2 1106.5,554.9 1113.5,555.6 1120.5,553.6 1127.5,553.6 1134.5,553.5 1141.5,552.9 1148.5,552.3 1155.5,550.9 1162.5,549.1 1169.5,547.9 1176.5,547.5" fill="none" stroke="#2f8f9f" stroke-width="1"/>
<polyline points="0.5,560.3 7.5,561.8 14.5,562.4 21.5,563.7 28.5,564.9 35.5,564.0 42.5,564.0 49.5,564.8 56.5,565.0 63.5,564.0 70.5,565.7 77.5,565.8 84.5,565.7 91.5,565.7 98.5,567.1 105.5,566.3 112.5,564.4 119.5,562.4 126.5,559.3 133.5,557.5 140.5,555.3 147.5,554.9 154.5,554.8 161.5,555.9 168.5,556.5 175.5,557.5 182.5,558.0 189.5,558.7 196.5,560.0 203.5,559.9 210.5,561.0 217.5,561.9 224.5,562.8 231.5,562.9 238.5,563.7 245.5,564.3 252.5,564.7 259.5,564.5 266.5,562.8 273.5,562.1 280.5,561.3 287.5,560.9 294.5,561.1 301.5,563.1 308.5,564.1 315.5,565.1 322.5,566.0 329.5,561.6 336.5,554.5 343.5,550.7 350.5,546.5 357.5,544.2 364.5,545.4 371.5,545.8 378.5,543.8 385.5,540.9 392.5,537.8 399.5,538.2 406.5,543.0 413.5,543.8 420.5,545.9 427.5,547.7 434.5,547.7 441.5,546.3 448.5,549.4 455.5,550.6 462.5,551.2 469.5,553.3 476.5,549.5 483.5,548.2 490.5,548.7 497.5,549.3 504.5,549.1 511.5,554.9 518.5,557.3 525.5,559.5 532.5,560.7 539.5,560.9 546.5,561.7 553.5,561.5 560.5,560.5 567.5,556.4 574.5,554.7 581.5,554.1 588.5,554.3 595.5,555.6 602.5,559.5 609.5,561.0 616.5,560.0 623.5,559.5 630.5,558.5 637.5,558.3 644.5,556.0 651.5,557.2 658.5,557.5 665.5,558.7 672.5,557.7 679.5,557.1 686.5,556.1 693.5,554.9 700.5,550.7 707.5,551.1 714.5,554.3 721.5,556.0 728.5,557.6 735.5,561.8 742.5,562.2 749.5,563.0 756.5,564.0 763.5,563.4 770.5,563.2 777.5,563.5 784.5,560.4 791.5,557.0 798.5,556.8 805.5,556.8 812.5,555.7 819.5,557.2 826.5,557.7 833.5,556.6 840.5,551.6 847.5,546.8 854.5,545.3 861.5,544.0 868.5,543.3 875.5,547.5 882.5,553.7 889.5,555.9 896.5,558.0 903.5,559.1 910.5,555.0 917.5,552.4 924.5,552.0 931.5,553.3 938.5,552.1 945.5,554.7 952.5,556.5 959.5,556.8 966.5,555.5 973.5,557.4 980.5,559.3 987.5,558.3 994.5,558.3 1001.5,555.3 1008.5,553.6 1015.5,550.6 1022.5,547.6 1029.5,545.3 1036.5,547.3 1043.5,546.4 1050.5,548.8 1057.5,551.8 1064.5,553.4 1071.5,553.2 1078.5,555.0 1085.5,555.3 1092.5,554.9 1099.5,555.1 1106.5,556.5 1113.5,556.2 1120.5,551.8 1127.5,552.4 1134.5,551.9 1141.5,549.3 1148.5,548.3 1155.5,549.9 1162.5,545.8 1169.5,543.8 1176.5,545.7" fill="none" stroke="#7a1010" stroke-width="1"/>
<polygon points="46.1,46.5 50.5,42.1 54.9,46.5 50.5,50.9" fill="#3398c3" shape-rendering="auto"/>
<polygon points="53.1,46.5 57.5,42.1 61.9,46.5 57.5,50.9" fill="#3398c3" shape-rendering="auto"/>
<polygon points="60.1,46.5 64.5,42.1 68.9,46.5 64.5,50.9" fill="#3398c3" shape-rendering="auto"/>
<polygon points="67.1,46.5 71.5,42.1 75.9,46.5 71.5,50.9" fill="#3398c3" shape-rendering="auto"/>
<polygon points="88.1,46.5 92.5,42.1 96.9,46.5 92.5,50.9" fill="#3398c3" shape-rendering="auto"/>
<polygon points="256.1,46.5 260.5,42.1 264.9,46.5 260.5,50.9" fill="#3398c3" shape-rendering="auto"/>
<polygon points="382.1,46.5 386.5,42.1 390.9,46.5 386.5,50.9" fill="#3398c3" shape-rendering="auto"/>
<polygon points="473.1,46.5 477.5,42.1 481.9,46.5 477.5,50.9" fill="#3398c3" shape-rendering="auto"/>
<polygon points="494.1,46.5 498.5,42.1 502.9,46.5 498.5,50.9" fill="#3398c3" shape-rendering="auto"/>
<polygon points="641.1,46.5 645.5,42.1 649.9,46.5 645.5,50.9" fill="#3398c3" shape-rendering="auto"/>
<polygon points="830.1,46.5 834.5,42.1 838.9,46.5 834.5,50.9" fill="#3398c3" shape-rendering="auto"/>
<polygon points="837.1,46.5 841.5,42.1 845.9,46.5 841.5,50.9" fill="#3398c3" shape-rendering="auto"/>
<polygon points="844.1,46.5 848.5,42.1 852.9,46.5 848.5,50.9" fill="#3398c3" shape-rendering="auto"/>
<polygon points="998.1,46.5 1002.5,42.1 1006.9,46.5 1002.5,50.9" fill="#3398c3" shape-rendering="auto"/>
<polygon points="1124.1,46.5 1128.5,42.1 1132.9,46.5 1128.5,50.9" fill="#3398c3" shape-rendering="auto"/>
<line x1="1164" y1="64.5" x2="1176" y2="64.5" stroke="#000" stroke-width="1"/>
<polygon points="1176.5,64.5 1172,62.3 1172,66.7" fill="#000" shape-rendering="auto"/>
<rect x="765" y="2" width="1" height="20" fill="#111"/>
<rect x="795" y="2" width="1" height="20" fill="#111"/>
<rect x="814" y="2" width="1" height="20" fill="#111"/>
<rect x="833" y="2" width="1" height="20" fill="#111"/>
<rect x="864" y="2" width="1" height="20" fill="#111"/>
<rect x="923" y="2" width="1" height="20" fill="#111"/>
<rect x="938" y="2" width="1" height="20" fill="#111"/>
<rect x="980" y="2" width="1" height="20" fill="#111"/>
<rect x="1011" y="2" width="1" height="20" fill="#111"/>
<rect x="1042" y="2" width="1" height="20" fill="#111"/>
<rect x="1061" y="2" width="1" height="20" fill="#111"/>
<rect x="1080" y="2" width="1" height="20" fill="#111"/>
<rect x="1111" y="2" width="1" height="20" fill="#111"/>
<rect x="1130" y="2" width="1" height="20" fill="#111"/>
<rect x="1161" y="2" width="1" height="20" fill="#111"/>
<rect x="1180" y="2" width="1" height="20" fill="#111"/>
<polygon points="827.5,2 833,2 833,7.5" fill="#e0102a" shape-rendering="auto"/>
<polygon points="858.5,2 864,2 864,7.5" fill="#e0102a" shape-rendering="auto"/>
<polygon points="917.5,2 923,2 923,7.5" fill="#e0102a" shape-rendering="auto"/>
<polygon points="926.8,10 934.2,10 930.5,14" fill="#2a2a2a" shape-rendering="auto"/>
<polygon points="1184.1,10 1191.5,10 1187.8,14" fill="#2a2a2a" shape-rendering="auto"/>
<rect x="1115.5" y="11.5" width="10" height="7" fill="none" stroke="#444" stroke-width="1"/>
<path d="M1117.5 11.5 V8.7 a3 3 0 0 1 6 0 V9.6" fill="none" stroke="#555" stroke-width="1" shape-rendering="auto"/>
<polygon points="1165,9.2 1169,9.2 1169,5.8 1175.5,11.5 1169,17.2 1169,13.8 1165,13.8" fill="#2a2a2a" shape-rendering="auto"/>
<rect x="1175" y="6" width="2" height="11" fill="#2a2a2a"/>
<rect x="1248" y="2" width="1" height="576" fill="#555"/>
<rect x="1248" y="57" width="123" height="1" fill="#333"/>
<rect x="1248" y="78" width="123" height="1" fill="#000"/>
<rect x="1267" y="79" width="1" height="205" fill="#111"/>
<rect x="1248" y="181" width="123" height="1" fill="#111"/>
<rect x="1248" y="283" width="123" height="1" fill="#666"/>
<rect x="1248" y="302" width="123" height="1" fill="#666"/>
<rect x="1248" y="501" width="123" height="1" fill="#555"/>
<rect x="1353" y="284" width="4" height="1" fill="#000"/>
<rect x="1353" y="301" width="4" height="2" fill="#000"/>
<rect x="1196.5" y="559.5" width="28" height="13" fill="none" stroke="#888" stroke-width="1"/>
</svg>
<div class="t ax" style="left:1197.5px;top:36px;">16.54</div>
<div class="t ax" style="left:1197.5px;top:113px;">14.43</div>
<div class="t ax" style="left:1197.5px;top:191px;">12.28</div>
<div class="t ax" style="left:1197.5px;top:268px;">10.17</div>
<div class="t ax" style="left:1197.5px;top:346px;">8.03</div>
<div class="t ax" style="left:1197.5px;top:424px;">5.89</div>
<div class="t ax" style="left:1198px;top:522.5px;">11585</div>
<div class="t ax" style="left:1198px;top:545px;">5921</div>
<div class="t ax" style="left:1197px;top:559.5px;color:#8a5a66">X100</div>
<div class="t ax" style="left:1132px;top:57px;color:#000">15.90</div>
<div class="t tb" style="left:766px;top:5px;width:29px;"><span style="position:relative;top:-1px;font-size:11.5px;margin-right:0px">H</span>股</div>
<div class="t tb" style="left:795.5px;top:5px;width:18px;">发</div>
<div class="t tb" style="left:815px;top:5px;width:18px;">简</div>
<div class="t tb" style="left:832px;top:5px;width:30px;">九转</div>
<div class="t tb" style="left:865px;top:5px;width:58px;letter-spacing:0.7px;">重大事件</div>
<div class="t tb" style="left:938px;top:5px;width:41px;">加自选</div>
<div class="t tb" style="left:981px;top:5px;width:30px;">均线</div>
<div class="t tb" style="left:1011px;top:5px;width:30px;">复权</div>
<div class="t tb" style="left:1043px;top:5px;width:18px;">叠</div>
<div class="t tb" style="left:1062px;top:5px;width:18px;">窗</div>
<div class="t tb" style="left:1079.5px;top:5px;width:30px;">预测</div>
<div class="t tb" style="left:1130.5px;top:5px;width:30px;">更多</div>
<div class="mk" style="left:639px">财</div>
<div class="mk" style="left:835px">榜</div>
<div class="mk" style="left:1150px">财</div>
<div class="mk" style="left:1157px">港</div>
<div class="t " style="left:115px;top:493px;font:bold 12px 'Liberation Sans',sans-serif;color:#0c1c2c">q</div>
<div class="t " style="left:1253px;top:10px;font:bold 10px 'Liberation Sans',sans-serif;color:#c8952a;-webkit-text-stroke:0.3px #c8952a">R</div>
<div class="t " style="left:1299px;top:0px;font:20px 'Liberation Serif','Noto Serif CJK SC',serif;letter-spacing:3px;color:#2b8a96;font-weight:700">郑煤机</div>
<div class="t " style="left:1283.5px;top:30px;font:24px 'Liberation Serif',serif;color:#c0202e;letter-spacing:0.5px;-webkit-text-stroke:0.4px #c0202e">15.<span style="margin-left:7px">65</span></div>
<div class="t b" style="left:1357.5px;top:40.5px;font-size:12px;color:#b01828">+1</div>
<div class="t cn16" style="left:1249px;top:60px;">委比</div>
<div class="t b" style="left:1298px;top:60px;color:#2a8f3c">-25.81%</div>
<div class="t b" style="left:1270px;top:81.0px;color:#000">5</div>
<div class="t b" style="left:1339.5px;top:81.0px;color:#ac1a2b">15.69</div>
<div class="t b" style="left:1270px;top:102.0px;color:#000">4</div>
<div class="t b" style="left:1339.5px;top:102.0px;color:#ac1a2b">15.68</div>
<div class="t b" style="left:1270px;top:122.0px;color:#000">3</div>
<div class="t b" style="left:1339.5px;top:122.0px;color:#ac1a2b">15.67</div>
<div class="t b" style="left:1270px;top:142.0px;color:#000">2</div>
<div class="t b" style="left:1339.5px;top:142.0px;color:#ac1a2b">15.66</div>
<div class="t b" style="left:1270px;top:162.0px;color:#000">1</div>
<div class="t b" style="left:1339.5px;top:162.0px;color:#ac1a2b">15.65</div>
<div class="t b" style="left:1270px;top:183.1px;color:#000">1</div>
<div class="t b" style="left:1339.5px;top:183.1px;color:#ac1a2b">15.64</div>
<div class="t b" style="left:1270px;top:203.0px;color:#000">2</div>
<div class="t b" style="left:1339.5px;top:203.0px;color:#ac1a2b">15.63</div>
<div class="t b" style="left:1270px;top:223.0px;color:#000">3</div>
<div class="t b" style="left:1339.5px;top:223.0px;color:#ac1a2b">15.62</div>
<div class="t b" style="left:1270px;top:243.0px;color:#000">4</div>
<div class="t b" style="left:1339.5px;top:243.0px;color:#ac1a2b">15.61</div>
<div class="t b" style="left:1270px;top:263.5px;color:#000">5</div>
<div class="t b" style="left:1339.5px;top:263.5px;color:#ac1a2b">15.60</div>
<div class="t cn16" style="left:1250px;top:104px;">卖</div>
<div class="t cn16" style="left:1250px;top:139px;">盘</div>
<div class="t cn16" style="left:1250px;top:206.5px;">买</div>
<div class="t cn16" style="left:1250px;top:241px;">盘</div>
<div class="t " style="left:1248.3px;top:285.5px;font:12px/16px 'Liberation Sans','Noto Sans CJK SC',sans-serif;color:#0a0a5a;font-weight:500">在卖盘<span class="d6">1</span><span class="d6">5</span><span class="d6">.</span><span class="d6">7</span><span class="d6">0</span>位置有</div>
<div class="t " style="left:1356px;top:286px;font:12px 'Liberation Sans',sans-serif;color:#c030c0">181</div>
<div class="t cn16" style="left:1250px;top:304.5px;">最新</div>
<div class="t b" style="right:-1px;top:305px;color:#ac1a2b">15.65</div>
<div class="t cn16" style="left:1250px;top:322.5px;">涨跌</div>
<div class="t b" style="right:-1px;top:323px;color:#ac1a2b">+1.20</div>
<div class="t cn16" style="left:1250px;top:340.5px;">涨幅</div>
<div class="t b" style="right:-3px;top:341px;color:#ac1a2b">+8.30%</div>
<div class="t cn16" style="left:1250px;top:358.5px;">振幅</div>
<div class="t b" style="right:-3px;top:359px;color:#1b747c">6.30%</div>
<div class="t cn16" style="left:1250px;top:376.5px;">总手</div>
<div class="t b" style="right:-1.5px;top:377px;color:#1b747c">45.08<span class="u">万</span></div>
<div class="t cn16" style="left:1250px;top:394.5px;">金额</div>
<div class="t b" style="right:-1.5px;top:395px;color:#1b747c">7.01<span class="u">亿</span></div>
<div class="t cn16" style="left:1250px;top:412.5px;">涨停</div>
<div class="t b" style="right:-1px;top:413px;color:#ac1a2b">15.90</div>
<div class="t cn16" style="left:1250px;top:430.5px;">外盘</div>
<div class="t b" style="right:-1.5px;top:431px;color:#ac1a2b">24.45<span class="u">万</span></div>
<div class="t cn16" style="left:1250px;top:448.5px;">总市值</div>
<div class="t b" style="right:-1.5px;top:449px;color:#1b747c">271.1<span class="u">亿</span></div>
<div class="t cn16" style="left:1250px;top:466.5px;">总股本<span class="sup">AH</span></div>
<div class="t b" style="right:-1.5px;top:467px;color:#1b747c">17.32<span class="u">亿</span></div>
<div class="t cn16" style="left:1250px;top:484.5px;">市盈<span class="pr">(</span>静<span class="pr">)</span></div>
<div class="t b" style="right:-1px;top:485px;color:#000">26.06</div>
<div class="t b" style="left:1251px;top:504.5px;color:#000">11:28</div>
<div class="t b" style="left:1339.5px;top:504.5px;color:#ac1a2b">15.62</div>
<div class="t b" style="left:1251px;top:525.9px;color:#000">11:28</div>
<div class="t b" style="left:1339.5px;top:525.9px;color:#ac1a2b">15.61</div>
<div class="t b" style="left:1251px;top:547.3px;color:#000">11:28</div>
<div class="t b" style="left:1339.5px;top:547.3px;color:#ac1a2b">15.63</div>
<div class="t b" style="left:1251px;top:568.7px;color:#000">11:28</div>
<div class="t b" style="left:1339.5px;top:568.7px;color:#ac1a2b">15.62</div>
</body></html>
